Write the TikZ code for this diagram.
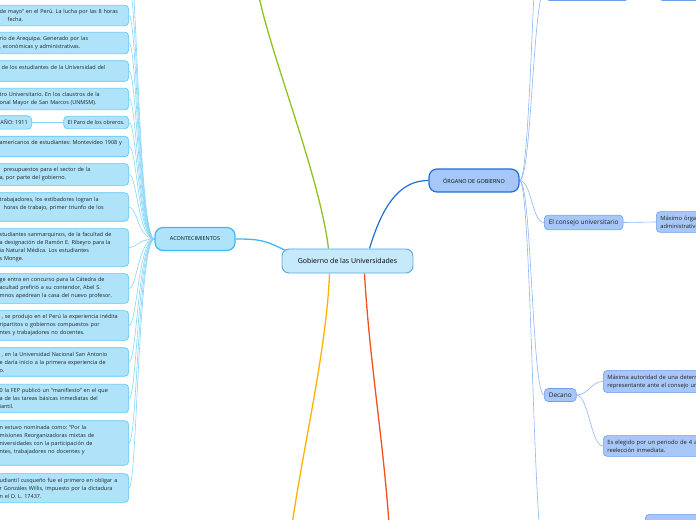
\documentclass[tikz,border=0pt]{standalone}
\usepackage{fontspec}
\setmainfont{Open Sans}
\usetikzlibrary{backgrounds,calc}
\frenchspacing

\definecolor{hojacian}{HTML}{AEE3FA}
\definecolor{bordecian}{HTML}{5CC6F5}
\definecolor{ramacian}{HTML}{3DBBF0}
\definecolor{lineacian}{HTML}{86D5F7}
\definecolor{hojaazul}{HTML}{A6C7F7}
\definecolor{bordeazul}{HTML}{6E9EEA}
\definecolor{ramaazul}{HTML}{1F6FD6}
\definecolor{lineaazul}{HTML}{8DB6F2}
\definecolor{centrofondo}{HTML}{C6E9FB}
\definecolor{centroborde}{HTML}{57A9E0}
\definecolor{textogris}{HTML}{222222}
\definecolor{verdelima}{HTML}{8DC21F}
\definecolor{ambar}{HTML}{FFB300}
\definecolor{rojizo}{HTML}{F4511E}

\tikzset{
	hoja/.style={draw=bordecian, fill=hojacian, rounded corners=4bp, line width=0.6bp,
		font=\fontsize{5.5}{8}\selectfont, text=textogris, align=left,
		inner xsep=4bp, inner ysep=4.2bp},
	hojaizq/.style={hoja, anchor=east, text width=125bp},
	hojader/.style={hoja, draw=bordeazul, fill=hojaazul, anchor=west, text width=140bp,
		font=\fontsize{5.8}{8}\selectfont},
	cargo/.style={hoja, draw=bordeazul, fill=hojaazul, font=\fontsize{6.5}{8}\selectfont,
		inner xsep=4.5bp},
	rama/.style={draw=#1, rounded corners=8bp, line width=1.2bp,
		font=\fontsize{5.5}{7}\selectfont, minimum height=23bp, inner xsep=6bp},
	ramaizq/.style={lineacian, line width=0.6bp},
	ramader/.style={lineaazul, line width=0.6bp}
}

\begin{document}
\begin{tikzpicture}[x=1bp, y=-1bp]
	\useasboundingbox (0,0) rectangle (696,520);

	\node[draw=centroborde, fill=centrofondo, rounded corners=7bp, line width=0.9bp,
		minimum width=131bp, minimum height=24bp, font=\fontsize{7}{8}\selectfont,
		text=black] (centro) at (347.5,261) {Gobierno de las Universidades};

	\node[rama=ramacian, fill=hojacian, text=black!85!teal, minimum width=80bp]
		(acont) at (195,239) {ACONTECIMIENTOS};
	\node[rama=ramaazul, fill=hojaazul, text=black!85!teal, minimum width=90bp]
		(organo) at (474,180.5) {ÓRGANO DE GOBIERNO};

	\coordinate (verde) at (256,-20);
	\coordinate (naranja) at (290,540);
	\coordinate (rojo) at (390,540);

	\coordinate (ev0) at (129,-14);
	\coordinate (ev00) at (129,-44);
	\node[hojaizq] (ev1) at (129,15.5) {de mayo” en el Perú. La lucha por las 8 horas\\ \hspace*{8bp}fecha.};
	\node[hojaizq] (ev2) at (129,43) {rio de Arequipa. Generado por las\\, económicas y administrativas.};
	\node[hojaizq] (ev3) at (129,71) {\hspace*{2bp}de los estudiantes de la Universidad del\\ \mbox{}};
	\node[hojaizq] (ev4) at (129,99) {tro Universitario. En los claustros de la\\onal Mayor de San Marcos (UNMSM).};
	\node[hoja, anchor=east] (paro) at (129,122.5) {El Paro de los obreros.};
	\node[hoja, anchor=east] (anio) at (32,122.5) {AÑO: 1911};
	\node[hojaizq] (ev6) at (129,146.5) {americanos de estudiantes: Montevideo 1908 y\\ \mbox{}};
	\node[hojaizq] (ev7) at (129,174.5) {\hspace*{4bp}presupuestos para el sector de la\\a, por parte del gobierno.};
	\node[hojaizq] (ev8) at (129,207) {trabajadores, los estibadores logran la\\ \hspace*{4bp}horas de trabajo, primer triunfo de los\\ \mbox{}};
	\node[hojaizq] (ev9) at (129,247.5) {studiantes sanmarquinos, de la facultad de\\a designación de Ramón E. Ribeyro para la\\ia Natural Médica. Los estudiantes\\s Monge.};
	\node[hojaizq] (ev10) at (129,288.5) {ge entra en concurso para la Cátedra de\\acultad prefirió a su contendor, Abel S.\\mnos apedrean la casa del nuevo profesor.};
	\node[hojaizq] (ev11) at (129,325.5) {\hspace*{2bp}, se produjo en el Perú la experiencia inédita\\ripartitos o gobiernos compuestos por\\ntes y trabajadores no docentes.};
	\node[hojaizq] (ev12) at (129,362) {\hspace*{2bp}, en la Universidad Nacional San Antonio\\e daría inicio a la primera experiencia de\\o.};
	\node[hojaizq] (ev13) at (129,398.5) {0 la FEP publicó un “manifiesto” en el que\\a de las tareas básicas inmediatas del\\iantil.};
	\node[hojaizq] (ev14) at (129,443) {n estuvo nominada como: “Por la\\misiones Reorganizadoras mixtas de\\niversidades con la participación de\\ntes, trabajadores no docentes y\\ \mbox{}};
	\node[hojaizq] (ev15) at (129,488) {udiantil cusqueño fue el primero en obligar a\\r Gonzáles Willis, impuesto por la dictadura\\n el D. L. 17437.};

	\node[cargo, minimum width=84bp, minimum height=22bp, anchor=west] (orgA) at (545,-10.5) {};
	\node[hojader, minimum height=22bp] (orgAhijo) at (658,-10.5) {\mbox{}};
	\coordinate (orgB) at (545,-120);
	\node[cargo, anchor=west] (consejo) at (544,222.5) {El consejo universitario};
	\node[hojader] (maximo) at (656,222) {Máximo órgano\\administrativo};
	\node[cargo, anchor=west] (decano) at (544,395) {Decano};
	\node[hojader] (autoridad) at (603,381.5) {Máxima autoridad de una determinada\\representante ante el consejo universitario};
	\node[hojader] (elegido) at (603,446) {Es elegido por un periodo de 4 años\\reelección inmediata.};
	\coordinate (orgE) at (545,560);
	\node[hojader, anchor=north west, minimum height=22bp] (orgEhijo) at (645,514) {\mbox{}};

	\begin{scope}[on background layer]
		\draw[verdelima, line width=1.3bp] ($(centro.north)+(-19,0)$) .. controls +(-10,-80) and +(8,60) .. (verde);
		\draw[ambar, line width=1.3bp] ($(centro.south)+(-18,0)$) .. controls +(-3,80) and +(10,-80) .. (naranja);
		\draw[rojizo, line width=1.3bp] ($(centro.south)+(17,0)$) .. controls +(5,90) and +(-5,-90) .. (rojo);
		\draw[ramacian, line width=1.3bp] ($(centro.north west)+(4,2)$) .. controls +(-20,-10) and +(25,0) .. (acont.east);
		\draw[ramaazul, line width=1.2bp] ($(centro.north)+(22,0)$) .. controls +(15,-50) and +(-25,0) .. (organo.west);

		\draw[ramaizq] (acont.west) .. controls +(-16,0) and +(8,0) .. (ev00);
		\draw[ramaizq] (acont.west) .. controls +(-16,0) and +(8,0) .. (ev0);
		\draw[ramaizq] (acont.west) .. controls +(-16,0) and +(8,0) .. (ev1.east);
		\draw[ramaizq] (acont.west) .. controls +(-16,0) and +(8,0) .. (ev2.east);
		\draw[ramaizq] (acont.west) .. controls +(-16,0) and +(8,0) .. (ev3.east);
		\draw[ramaizq] (acont.west) .. controls +(-16,0) and +(8,0) .. (ev4.east);
		\draw[ramaizq] (acont.west) .. controls +(-16,0) and +(8,0) .. (paro.east);
		\draw[ramaizq] (acont.west) .. controls +(-16,0) and +(8,0) .. (ev6.east);
		\draw[ramaizq] (acont.west) .. controls +(-16,0) and +(8,0) .. (ev7.east);
		\draw[ramaizq] (acont.west) .. controls +(-16,0) and +(8,0) .. (ev8.east);
		\draw[ramaizq] (acont.west) .. controls +(-16,0) and +(8,0) .. (ev9.east);
		\draw[ramaizq] (acont.west) .. controls +(-16,0) and +(8,0) .. (ev10.east);
		\draw[ramaizq] (acont.west) .. controls +(-16,0) and +(8,0) .. (ev11.east);
		\draw[ramaizq] (acont.west) .. controls +(-16,0) and +(8,0) .. (ev12.east);
		\draw[ramaizq] (acont.west) .. controls +(-16,0) and +(8,0) .. (ev13.east);
		\draw[ramaizq] (acont.west) .. controls +(-16,0) and +(8,0) .. (ev14.east);
		\draw[ramaizq] (acont.west) .. controls +(-16,0) and +(8,0) .. (ev15.east);
		\draw[ramaizq] (paro.west) -- (anio.east);

		\draw[ramader] (organo.east) .. controls +(12,0) and +(-12,0) .. (orgB);
		\draw[ramader] (organo.east) .. controls +(12,0) and +(-12,0) .. (orgA.west);
		\draw[ramader] (organo.east) .. controls +(12,0) and +(-12,0) .. (consejo.west);
		\draw[ramader] (organo.east) .. controls +(12,0) and +(-12,0) .. (decano.west);
		\draw[ramader] (organo.east) .. controls +(12,0) and +(-12,0) .. (orgE);
		\draw[ramader] (orgA.east) -- (orgAhijo.west);
		\draw[ramader] (consejo.east) -- (maximo.west);
		\draw[ramader] (decano.east) .. controls +(12,0) and +(-12,0) .. (autoridad.west);
		\draw[ramader] (decano.east) .. controls +(12,0) and +(-12,0) .. (elegido.west);
		\draw[ramader] (orgE) .. controls +(50,0) and +(-12,0) .. (orgEhijo.west);
	\end{scope}
\end{tikzpicture}
\end{document}
